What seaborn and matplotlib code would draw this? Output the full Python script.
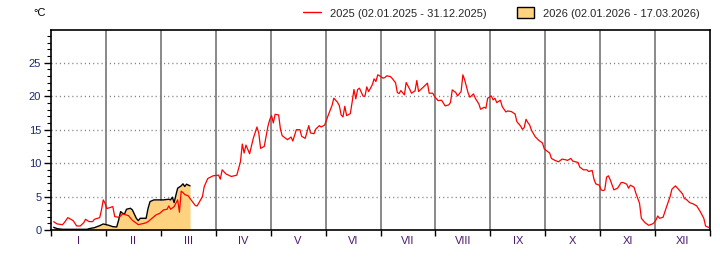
import numpy as np
import pandas as pd
import matplotlib
matplotlib.use("Agg")
import matplotlib.pyplot as plt
import seaborn as sns
from matplotlib.lines import Line2D
from matplotlib.patches import Patch

sns.set_theme(style="white")
plt.rcParams['font.family'] = ['Liberation Sans', 'DejaVu Sans']

# ---------------- data ----------------
month_labels = ["I", "II", "III", "IV", "V", "VI", "VII", "VIII", "IX", "X", "XI", "XII"]

dates_2025 = [
    "01-02", "01-04", "01-07", "01-08", "01-10", "01-13", "01-15", "01-17", "01-19", "01-20",
    "01-22", "01-24", "01-25", "01-28", "01-29", "01-30", "01-31",
    "02-01", "02-03", "02-04", "02-05", "02-07", "02-08", "02-09", "02-12", "02-14", "02-17",
    "02-20", "02-21", "02-22", "02-24", "02-26", "02-28",
    "03-02", "03-04", "03-05", "03-06", "03-08", "03-09", "03-10", "03-11", "03-12", "03-13",
    "03-14", "03-16", "03-17", "03-20", "03-21", "03-24", "03-25", "03-27", "03-30",
    "04-02", "04-03", "04-04", "04-06", "04-09", "04-12", "04-13", "04-14", "04-15", "04-16",
    "04-17", "04-19", "04-21", "04-23", "04-24", "04-25", "04-27", "04-29", "04-30",
    "05-01", "05-02", "05-03", "05-05", "05-06", "05-07", "05-09", "05-10", "05-12", "05-13",
    "05-15", "05-17", "05-18", "05-20", "05-22", "05-23", "05-25", "05-26", "05-28", "05-29", "05-31",
    "06-02", "06-04", "06-05", "06-07", "06-08", "06-09", "06-10", "06-11", "06-12", "06-14",
    "06-15", "06-16", "06-17", "06-18", "06-19", "06-21", "06-22", "06-23", "06-24", "06-26",
    "06-27", "06-28", "06-29", "06-30",
    "07-02", "07-03", "07-04", "07-06", "07-07", "07-09", "07-10", "07-11", "07-12", "07-14",
    "07-15", "07-17", "07-18", "07-20", "07-21", "07-22", "07-24", "07-27", "07-28", "07-30", "07-31",
    "08-02", "08-04", "08-06", "08-08", "08-09", "08-10", "08-12", "08-13", "08-15", "08-16",
    "08-17", "08-19", "08-20", "08-22", "08-23", "08-25", "08-26", "08-28", "08-29", "08-30",
    "09-01", "09-02", "09-03", "09-04", "09-06", "09-07", "09-09", "09-10", "09-12", "09-14",
    "09-15", "09-17", "09-18", "09-19", "09-20", "09-21", "09-22", "09-23", "09-25", "09-27",
    "09-29", "09-30",
    "10-01", "10-03", "10-04", "10-06", "10-08", "10-10", "10-12", "10-13", "10-15", "10-16",
    "10-19", "10-20", "10-22", "10-24", "10-25", "10-27", "10-28", "10-29", "10-31",
    "11-01", "11-02", "11-03", "11-04", "11-05", "11-06", "11-08", "11-10", "11-12", "11-13",
    "11-15", "11-16", "11-17", "11-19", "11-20", "11-22", "11-23", "11-25", "11-27", "11-29", "11-30",
    "12-01", "12-02", "12-03", "12-05", "12-07", "12-09", "12-10", "12-12", "12-14", "12-16",
    "12-17", "12-18", "12-20", "12-22", "12-24", "12-26", "12-28", "12-29", "12-31",
]
temp_2025 = [
    1.24, 0.9, 0.8, 1.1, 1.85, 1.4, 0.6, 0.6, 1.1, 1.6,
    1.25, 1.25, 1.6, 1.85, 3.0, 4.5, 4.0,
    3.2, 3.4, 3.5, 2.0, 1.9, 2.1, 2.4, 2.15, 1.45, 0.8,
    1.0, 1.1, 1.25, 1.75, 2.25, 2.5,
    3.0, 3.1, 3.6, 3.1, 3.5, 4.0, 4.5, 2.65, 5.8, 5.6,
    5.3, 5.1, 4.7, 3.65, 3.6, 5.0, 6.5, 7.7, 8.1,
    8.2, 7.6, 9.0, 8.4, 8.0, 8.2, 9.2, 10.2, 12.85, 11.5,
    12.7, 11.4, 13.7, 15.4, 14.5, 12.2, 12.5, 15.5, 16.5,
    17.1, 16.0, 17.3, 17.2, 15.1, 14.1, 13.7, 13.5, 13.9, 13.3,
    15.0, 15.0, 14.0, 13.7, 15.6, 14.5, 14.4, 15.1, 15.6, 15.4, 15.7,
    17.2, 18.6, 19.7, 19.1, 18.6, 17.2, 16.9, 18.5, 17.1, 17.4,
    19.1, 21.0, 19.6, 21.0, 21.2, 20.0, 20.0, 21.4, 20.7, 21.7,
    22.6, 22.2, 23.2, 23.05,
    22.7, 22.8, 23.05, 22.95, 22.7, 22.0, 20.55, 20.4, 20.85, 20.2,
    22.05, 21.05, 20.45, 20.8, 22.35, 20.7, 21.2, 21.95, 20.45, 20.45, 19.95,
    19.35, 19.4, 18.55, 18.7, 19.05, 20.95, 20.55, 20.05, 20.7, 23.2,
    22.45, 20.45, 19.85, 20.35, 19.7, 18.85, 18.05, 18.35, 18.2, 19.7,
    20.05, 19.45, 19.7, 19.05, 19.4, 18.45, 17.65, 17.8, 17.7, 17.35,
    16.2, 15.55, 15.05, 15.3, 16.55, 16.05, 15.7, 14.9, 13.95, 13.4,
    13.0, 12.1,
    11.9, 11.5, 10.7, 10.4, 10.2, 10.6, 10.5, 10.4, 10.7, 10.3,
    10.1, 9.4, 9.0, 9.0, 8.75, 8.9, 7.6, 6.9, 6.7,
    6.0, 5.9, 6.0, 7.9, 8.1, 7.5, 6.0, 6.25, 7.1, 7.1,
    6.85, 6.25, 6.7, 6.4, 5.5, 4.0, 1.75, 1.1, 0.7, 0.9, 1.1,
    1.5, 2.1, 1.75, 1.9, 3.5, 5.0, 6.1, 6.6, 6.0, 5.4,
    4.7, 4.6, 4.1, 3.9, 3.6, 2.75, 1.75, 0.6, 0.35,
]

dates_2026 = [
    "01-02", "01-04", "01-07", "01-15", "01-21", "01-22", "01-25", "01-28", "01-30",
    "02-02", "02-04", "02-06", "02-07", "02-08", "02-09", "02-10", "02-11", "02-13", "02-14",
    "02-16", "02-17", "02-18", "02-21", "02-22", "02-23", "02-25", "02-27",
    "03-02", "03-05", "03-06", "03-07", "03-08", "03-09", "03-10", "03-12", "03-13", "03-14",
    "03-15", "03-17",
]
temp_2026 = [
    0.4, 0.2, 0.1, 0.1, 0.1, 0.2, 0.35, 0.65, 0.9,
    0.7, 0.5, 0.45, 1.5, 2.75, 2.5, 2.4, 3.1, 3.25, 3.0,
    1.75, 1.4, 1.75, 1.75, 3.25, 4.25, 4.5, 4.5,
    4.5, 4.6, 4.5, 4.9, 4.1, 5.2, 6.25, 6.6, 6.9, 6.5,
    6.85, 6.6,
]

label_2025 = "2025 (02.01.2025 - 31.12.2025)"
label_2026 = "2026 (02.01.2026 - 17.03.2026)"


def month_pos(year, mmdd):
    d = pd.to_datetime([f"{year}-{s}" for s in mmdd])
    return np.asarray((d.month - 1) + (d.day - 0.5) / d.days_in_month, dtype=float)


df25 = pd.DataFrame({"pos": month_pos(2025, dates_2025), "temp": temp_2025})
df26 = pd.DataFrame({"pos": month_pos(2026, dates_2026), "temp": temp_2026})

# ---------------- figure ----------------
fig = plt.figure(figsize=(7.2, 2.6), dpi=100)
ax = fig.add_axes([51 / 720, 30 / 260, 659 / 720, 200 / 260])
ax.set_facecolor("white")

fill_col = "#FFD280"
ax.fill_between(df26["pos"], 0, df26["temp"], color=fill_col, lw=0, zorder=2)
sns.lineplot(data=df26, x="pos", y="temp", ax=ax, color="black", lw=1.0,
             estimator=None, sort=False, legend=False, zorder=3)
sns.lineplot(data=df25, x="pos", y="temp", ax=ax, color="#FF0000", lw=0.9,
             estimator=None, sort=False, legend=False, zorder=4)

# month separators
for k in range(1, 12):
    ax.axvline(k, color="#808080", lw=1.3, zorder=1)

# dotted horizontal grid
for v in range(5, 30, 5):
    ax.axhline(v, color="#808080", lw=1.0, linestyle=(0, (0.8, 2.2)), zorder=1)

ax.set_xlim(0, 12)
ax.set_ylim(0, 29.9)
ax.set_xlabel("")
ax.set_ylabel("")
ax.grid(False)

# x ticks
ax.set_xticks(range(0, 13))
ax.set_xticklabels([""] * 13)
ax.set_xticks(np.arange(12) + 0.5, minor=True)
ax.set_xticklabels(month_labels, minor=True)
ax.tick_params(axis="x", which="major", direction="out", length=4, width=1, color="black", bottom=True)
ax.tick_params(axis="x", which="minor", length=0, pad=4, labelsize=8, labelcolor="#4a1a6e", bottom=True)

# y ticks
ax.set_yticks(range(0, 30, 5))
ax.set_yticks(range(0, 30), minor=True)
ax.tick_params(axis="y", which="major", direction="out", length=5, width=1, color="black",
               left=True, labelsize=8, labelcolor="#1a2a6e", pad=2)
ax.tick_params(axis="y", which="minor", direction="out", length=3, width=0.8, color="black", left=True)

for s in ax.spines.values():
    s.set_color("black")
    s.set_linewidth(1.2)
    s.set_visible(True)

fig.text(33 / 720, 1 - 13 / 260, "°C", va="center", ha="left", fontsize=8, color="black")

handles = [Line2D([0], [0], color="#FF0000", lw=1.0),
           Patch(facecolor=fill_col, edgecolor="black", lw=1.0)]
fig.legend(handles, [label_2025, label_2026], loc="center right",
           bbox_to_anchor=(700 / 720, 1 - 13 / 260), ncol=2, frameon=False,
           fontsize=8, handlelength=1.6, handleheight=1.1, handletextpad=0.8,
           columnspacing=2.7, borderpad=0, borderaxespad=0)

fig.savefig("out.png", dpi=100, facecolor="white")
